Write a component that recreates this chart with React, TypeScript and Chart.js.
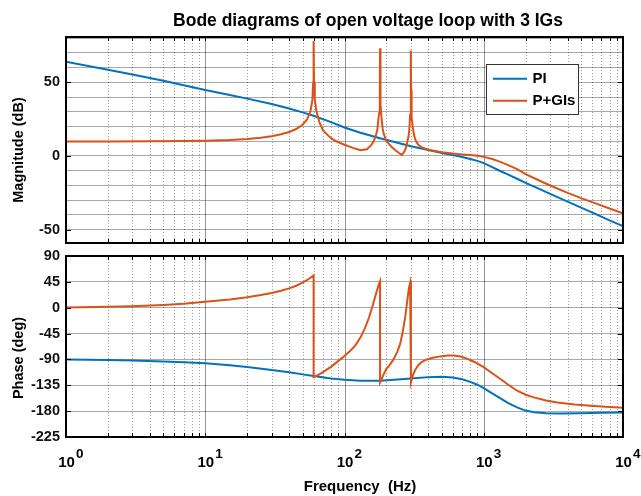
import React, { useEffect, useRef } from "react";
import { Chart, registerables } from "chart.js";

Chart.register(...registerables);

const W = 641;
const H = 496;
const FONT = "'Liberation Sans', Arial, Helvetica, sans-serif";

const TITLE = "Bode diagrams of open voltage loop with 3 IGs";
const MAG_LABEL = "Magnitude (dB)";
const PHASE_LABEL = "Phase (deg)";
const FREQ_LABEL = "Frequency  (Hz)";
const SERIES = ["PI", "P+GIs"];
const COLORS = ["#0072BD", "#D95319"];

const xDecadeExponents = [0, 1, 2, 3, 4];
const magTickLabels = [-50, 0, 50];
const magGridValues = [-50, -40, -30, -20, -10, 0, 10, 20, 30, 40, 50, 60, 70, 80];
const phaseTickLabels = [-225, -180, -135, -90, -45, 0, 45, 90];

// [frequency Hz, magnitude dB]
const piMag: [number, number][] = [
  [1, 63.9], [2, 58.5], [3, 55.2], [5, 51.0], [7, 48.0], [10, 44.7], [15, 41.4], [20, 38.9],
  [30, 35.2], [40, 32.2], [50, 29.6], [60, 27.3], [80, 23.0], [100, 19.3], [130, 15.8],
  [180, 12.0], [240, 9.0], [300, 6.6], [400, 4.0], [500, 2.0], [600, 0.6], [700, -0.7],
  [800, -2.0], [900, -3.3], [1000, -4.8], [1150, -7.5], [1300, -10.0], [1500, -12.6],
  [1750, -15.6], [2000, -18.2], [2500, -22.3], [3000, -25.7], [4000, -30.9], [5000, -35.0],
  [6500, -39.8], [8000, -43.6], [10000, -47.6],
];

const gisMag: [number, number][] = [
  [1, 9.8], [2, 9.85], [4, 9.95], [7, 10.1], [10, 10.3], [15, 10.8], [20, 11.5], [25, 12.3],
  [30, 13.4], [35, 14.7], [40, 16.3], [45, 18.3], [50, 21.2], [54, 25], [57, 30.5],
  [58.8, 38], [59.6, 50], [60, 78], [60.4, 50], [61.2, 38], [63, 30], [66, 23], [70, 17.5],
  [78, 13], [85, 10.5], [93, 8.8], [100, 7.6], [115, 5.5], [130, 3.9], [145, 4.6],
  [155, 7.2], [161, 9.7], [167, 13], [172, 17.6], [177, 29], [179.3, 45], [180, 73],
  [180.6, 45], [182, 35], [184, 27], [188, 18.5], [191, 15.3], [198, 11], [207, 8.6],
  [220, 5.8], [231, 4.1], [245, 2.2], [258, 0.8], [266, 2.2], [275, 5], [281, 8.6],
  [288, 13], [292, 17.6], [296, 28], [298.8, 45], [300, 71.5], [300.8, 45], [302, 33],
  [305, 26], [310, 19], [317, 13.5], [325, 10.3], [340, 7.4], [360, 5.8], [400, 4.2],
  [500, 2.6], [600, 1.7], [700, 1.1], [800, 0.6], [900, 0.1], [1000, -0.6], [1150, -2.0],
  [1300, -3.8], [1500, -6.2], [1750, -9.0], [2000, -12.3], [2500, -16.6], [3000, -20.0],
  [4000, -25.0], [5000, -28.6], [6500, -32.5], [8000, -35.6], [10000, -38.8],
];

// [frequency Hz, phase deg]
const piPhase: [number, number][] = [
  [1, -90.3], [2, -91.2], [3, -92], [5, -93.7], [7, -95], [10, -96.8], [15, -100], [20, -103],
  [30, -108.3], [40, -112.5], [50, -116], [60, -119], [80, -123], [100, -125.5], [130, -127],
  [180, -127], [240, -125], [300, -123], [400, -120.8], [500, -120], [600, -121.5],
  [700, -124.5], [800, -129], [900, -134], [1000, -140], [1150, -149], [1300, -157],
  [1500, -166], [1750, -174], [2000, -179], [2300, -182], [2800, -183.5], [3500, -184],
  [5000, -183.7], [7000, -183], [10000, -182.5],
];

const gisPhase: [number, number][] = [
  [1, 0.3], [2, 1.5], [3, 2.6], [5, 4.7], [7, 6.8], [10, 10.2], [15, 14.5], [20, 18.3],
  [25, 22], [30, 25.6], [35, 29.5], [40, 33.7], [45, 38.3], [50, 43.5], [55, 49.5], [60, 56],
  [60, -121], [65, -117], [70, -112], [80, -103], [90, -93], [100, -84], [110, -75],
  [120, -65], [130, -52], [140, -36], [150, -17], [160, 5], [166, 19], [172, 32],
  [177, 41.5], [180, 46], [180, -130], [185, -124], [191, -116], [200, -106.5], [212, -99],
  [225, -90], [240, -76], [251, -63], [262, -42], [273, -16], [282, 11], [290, 34],
  [296, 43], [300, 46], [300, -130], [306, -122], [314, -114], [325, -106.5], [340, -99.5],
  [360, -94], [391, -90], [430, -87], [488, -84.7], [550, -83.3], [608, -83], [680, -85],
  [758, -88.5], [850, -94], [1000, -103.5], [1150, -114], [1318, -124], [1500, -134],
  [1738, -144.5], [2000, -151.5], [2290, -156], [2800, -161.5], [3377, -165], [4500, -168.5],
  [5864, -170.5], [7500, -172.5], [10000, -174],
];

type PanelCfg = {
  top: number;
  bottom: number;
  yMin: number;
  yMax: number;
  yGrid: number[];
  yLabels: number[];
  yTitle: string;
  yTitleCenter: number;
  mag: boolean;
};

function toPoints(rows: [number, number][]) {
  return rows.map(([x, y]) => ({ x, y }));
}

function framePlugin(p: PanelCfg) {
  return {
    id: "frame",
    beforeDatasetsDraw(chart: any) {
      const { ctx, chartArea: a } = chart;
      const xs = chart.scales.x;
      ctx.save();
      ctx.lineWidth = 1;
      for (let e = 0; e < 4; e++) {
        for (let m = 1; m <= 9; m++) {
          const v = m * Math.pow(10, e);
          if (v <= 1) continue;
          const px = Math.round(xs.getPixelForValue(v)) + 0.5;
          ctx.beginPath();
          if (m === 1) {
            ctx.setLineDash([]);
            ctx.strokeStyle = "rgba(0,0,0,0.42)";
          } else {
            ctx.setLineDash([1, 2]);
            ctx.strokeStyle = "rgba(0,0,0,0.38)";
          }
          ctx.moveTo(px, a.top);
          ctx.lineTo(px, a.bottom);
          ctx.stroke();
        }
      }
      ctx.restore();
    },
    afterDraw(chart: any) {
      const { ctx, chartArea: a } = chart;
      const xs = chart.scales.x;
      const ys = chart.scales.y;
      ctx.save();
      ctx.setLineDash([]);
      // tick marks
      ctx.strokeStyle = "#000";
      ctx.lineWidth = 1;
      ctx.beginPath();
      for (let e = 0; e < 4; e++) {
        for (let m = 1; m <= 9; m++) {
          const px = Math.round(xs.getPixelForValue(m * Math.pow(10, e))) + 0.5;
          ctx.moveTo(px, a.top);
          ctx.lineTo(px, a.top + 4);
          ctx.moveTo(px, a.bottom);
          ctx.lineTo(px, a.bottom - 4);
        }
      }
      for (const v of p.yLabels) {
        const py = Math.round(ys.getPixelForValue(v)) + 0.5;
        ctx.moveTo(a.left, py);
        ctx.lineTo(a.left + 5, py);
        ctx.moveTo(a.right, py);
        ctx.lineTo(a.right - 5, py);
      }
      ctx.stroke();
      // box
      ctx.lineWidth = 2;
      ctx.strokeRect(a.left, a.top, a.right - a.left, a.bottom - a.top);

      // y axis title
      ctx.fillStyle = "#000";
      ctx.font = `bold 14.5px ${FONT}`;
      ctx.save();
      ctx.translate(18.5, p.yTitleCenter);
      ctx.rotate(-Math.PI / 2);
      ctx.textAlign = "center";
      ctx.textBaseline = "middle";
      ctx.fillText(p.yTitle, 0, 0);
      ctx.restore();

      if (p.mag) {
        // title
        ctx.font = `bold 17.5px ${FONT}`;
        ctx.textAlign = "center";
        ctx.textBaseline = "alphabetic";
        ctx.fillText(TITLE, 368, 25.5);
        // legend
        const lx = 486.5, ly = 64.5, lw = 92, lh = 50;
        ctx.fillStyle = "#fff";
        ctx.fillRect(lx, ly, lw, lh);
        ctx.lineWidth = 1;
        ctx.strokeStyle = "#333";
        ctx.strokeRect(lx, ly, lw, lh);
        const rows = [78.7, 100.7];
        chart.data.datasets.forEach((ds: any, i: number) => {
          ctx.strokeStyle = ds.borderColor;
          ctx.lineWidth = 2;
          ctx.beginPath();
          ctx.moveTo(493, rows[i]);
          ctx.lineTo(527, rows[i]);
          ctx.stroke();
          ctx.fillStyle = "#000";
          ctx.font = `bold 15px ${FONT}`;
          ctx.textAlign = "left";
          ctx.textBaseline = "middle";
          ctx.fillText(ds.label, 532.5, rows[i] + 0.5);
        });
      } else {
        // x tick labels 10^n
        ctx.fillStyle = "#000";
        for (const e of xDecadeExponents) {
          const px = xs.getPixelForValue(Math.pow(10, e));
          ctx.font = `bold 15px ${FONT}`;
          ctx.textAlign = "center";
          ctx.textBaseline = "alphabetic";
          ctx.fillText("10", px + 0.5, 466.5);
          ctx.font = `bold 13.5px ${FONT}`;
          ctx.textAlign = "left";
          ctx.fillText(String(e), px + 10, 458);
        }
        ctx.font = `bold 15px ${FONT}`;
        ctx.textAlign = "center";
        ctx.fillText(FREQ_LABEL, 360, 491);
      }
      ctx.restore();
    },
  };
}

function makeConfig(p: PanelCfg, piRows: [number, number][], gisRows: [number, number][]): any {
  return {
    type: "line",
    data: {
      datasets: [
        {
          label: SERIES[0],
          data: toPoints(piRows),
          borderColor: COLORS[0],
          borderWidth: 2,
          pointRadius: 0,
          tension: 0,
          fill: false,
          order: 1,
        },
        {
          label: SERIES[1],
          data: toPoints(gisRows),
          borderColor: COLORS[1],
          borderWidth: 2,
          pointRadius: 0,
          tension: 0,
          fill: false,
          order: 0,
        },
      ],
    },
    options: {
      responsive: false,
      animation: false,
      devicePixelRatio: 1,
      events: [],
      layout: { padding: { left: 16, right: W - 623, top: p.top, bottom: H - p.bottom } },
      plugins: { legend: { display: false }, title: { display: false }, tooltip: { enabled: false } },
      scales: {
        x: { type: "logarithmic", min: 1, max: 10000, display: false },
        y: {
          type: "linear",
          min: p.yMin,
          max: p.yMax,
          bounds: "data",
          afterBuildTicks: (s: any) => {
            s.ticks = p.yGrid.map((v) => ({ value: v }));
          },
          afterFit: (s: any) => {
            s.width = 50;
          },
          grid: { color: "#a9a9a9", lineWidth: 1, drawTicks: false },
          border: { display: false },
          ticks: {
            autoSkip: false,
            padding: 6,
            color: "#111",
            font: { family: FONT, size: 14.5, weight: "bold" },
            callback: (v: any) => (p.yLabels.includes(Number(v)) ? String(v) : ""),
          },
        },
      },
    },
    plugins: [framePlugin(p)],
  };
}

export default function App() {
  const magRef = useRef<HTMLCanvasElement>(null);
  const phaseRef = useRef<HTMLCanvasElement>(null);

  useEffect(() => {
    document.body.style.margin = "0";
    const magCfg: PanelCfg = {
      top: 37,
      bottom: 243,
      yMin: -59,
      yMax: 80.7,
      yGrid: magGridValues,
      yLabels: magTickLabels,
      yTitle: MAG_LABEL,
      yTitleCenter: 150,
      mag: true,
    };
    const phCfg: PanelCfg = {
      top: 256,
      bottom: 437,
      yMin: -225,
      yMax: 90,
      yGrid: phaseTickLabels,
      yLabels: phaseTickLabels,
      yTitle: PHASE_LABEL,
      yTitleCenter: 358,
      mag: false,
    };
    const c1 = new Chart(magRef.current as HTMLCanvasElement, makeConfig(magCfg, piMag, gisMag));
    const c2 = new Chart(phaseRef.current as HTMLCanvasElement, makeConfig(phCfg, piPhase, gisPhase));
    return () => {
      c1.destroy();
      c2.destroy();
    };
  }, []);

  return (
    <div style={{ position: "relative", width: W, height: H, background: "#fff" }}>
      <canvas ref={magRef} width={W} height={H} style={{ position: "absolute", left: 0, top: 0 }} />
      <canvas ref={phaseRef} width={W} height={H} style={{ position: "absolute", left: 0, top: 0 }} />
    </div>
  );
}
